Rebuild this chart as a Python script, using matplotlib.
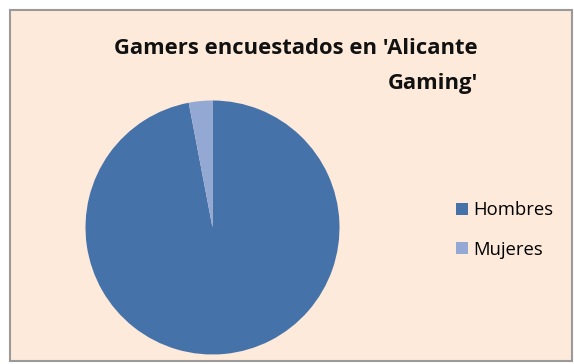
import matplotlib.pyplot as plt
from matplotlib.patches import Rectangle

# encuesta de jugadores
etiquetas = ['Hombres', 'Mujeres']
valores = [97, 3]
colores = ['#4672AA', '#93A9D4']

W, H = 574, 364
fig = plt.figure(figsize=(W / 100, H / 100), dpi=100)
fig.patch.set_facecolor('white')

# fondo del grafico con borde gris
fondo = Rectangle((10 / W, 3 / H), 562 / W, 351 / H, transform=fig.transFigure,
                  facecolor='#FDEADA', edgecolor='#9A9A9A', linewidth=1.5, zorder=-5)
fig.patches.append(fondo)

# tarta: centro (212.5, 227.5) px, radio 127 px
cx, cy, r = 212.5, 227.5, 127
ax = fig.add_axes([(cx - r) / W, (H - cy - r) / H, 2 * r / W, 2 * r / H])
ax.set_zorder(2)
ax.patch.set_visible(False)
cunas, _ = ax.pie(valores, colors=colores, startangle=90, counterclock=False,
                  radius=1, wedgeprops=dict(linewidth=0))
ax.set_xlim(-1, 1)
ax.set_ylim(-1, 1)
ax.axis('off')

fuente = 'Open Sans'
fig.text(478 / W, 1 - 48 / H, "Gamers encuestados en 'Alicante", ha='right', va='center',
         fontsize=15.8, fontweight='bold', family=fuente, color='#111111')
fig.text(478 / W, 1 - 84 / H, "Gaming'", ha='right', va='center',
         fontsize=15.8, fontweight='bold', family=fuente, color='#111111')

fig.legend(cunas, etiquetas, loc='center left', bbox_to_anchor=(439 / W, 1 - 230 / H),
           frameon=False, handlelength=0.65, handleheight=0.65, handletextpad=0.3,
           labelspacing=1.15, prop={'family': fuente, 'size': 13.3})

fig.savefig('out.png', dpi=100)
